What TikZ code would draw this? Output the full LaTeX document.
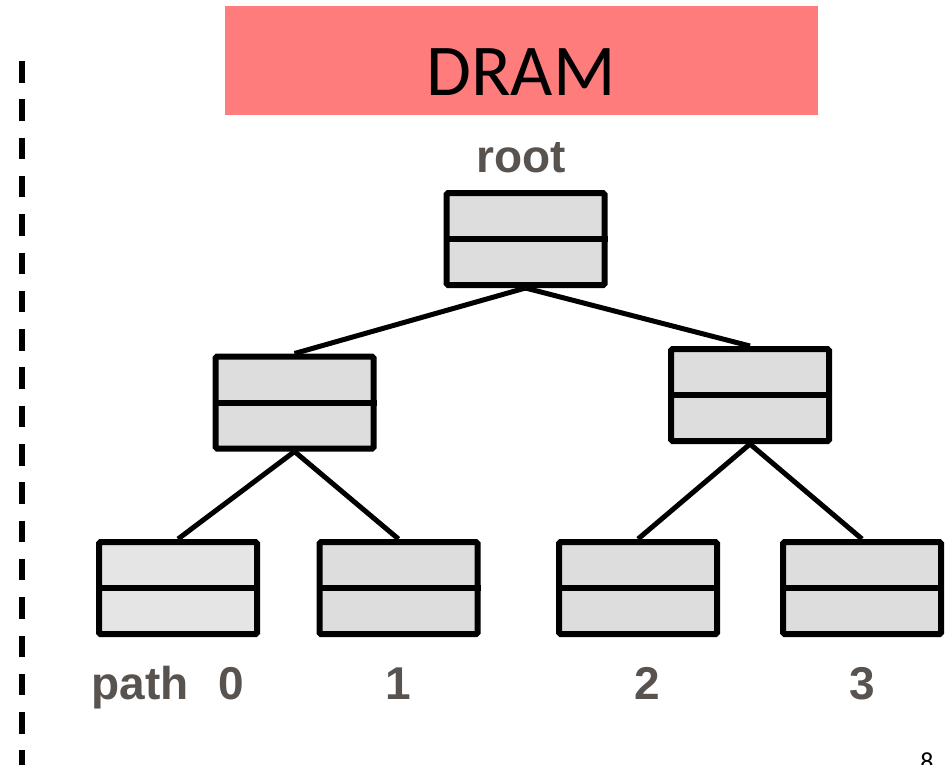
\documentclass[tikz,border=0pt]{standalone}
\usepackage{fontspec}
\setmainfont{Liberation Sans}
\newfontfamily\calfont{Carlito}
\definecolor{dramred}{RGB}{255,124,124}
\definecolor{cellgray}{RGB}{221,221,221}
\definecolor{cellgraylight}{RGB}{229,229,229}
\definecolor{labelgray}{RGB}{89,83,80}
\begin{document}
\begin{tikzpicture}[x=1pt,y=-1pt,
  bucket/.style={draw=black, line width=6pt, fill=cellgray, rectangle,
    rounded corners=1.5pt, minimum width=158pt, minimum height=92pt,
    inner sep=0pt},
  edge/.style={draw=black, line width=5pt},
  lbl/.style={text=labelgray, font=\fontsize{46}{50}\selectfont\bfseries,
    anchor=base, inner sep=0pt}]
  \useasboundingbox (0,0) rectangle (950,764);

  % DRAM banner
  \node[fill=dramred, minimum width=593pt, minimum height=109pt, inner sep=0pt]
    (dram) at (521.5,60.5) {};
  \node[anchor=base, inner sep=0pt, font=\calfont\fontsize{73}{78}\selectfont]
    (dramtxt) at (521,95) {DRAM};

  % dashed divider on the left
  \coordinate (dtop) at (22,61);
  \coordinate (dbot) at (22,790);
  \draw[line width=5.5pt, dash pattern=on 21.5pt off 16.8pt] (dtop) -- (dbot);

  % tree buckets
  \node[bucket] (root) at (525.5,239) {};
  \node[bucket] (l) at (294.5,402.5) {};
  \node[bucket] (r) at (750,395) {};
  \node[bucket, fill=cellgraylight] (p0) at (178,588) {};
  \node[bucket] (p1) at (398.5,588) {};
  \node[bucket] (p2) at (638,588) {};
  \node[bucket] (p3) at (862,588) {};

  % split each bucket into two slots
  \foreach \b in {root,l,r,p0,p1,p2,p3}
    \draw[line width=6pt] (\b.west) -- (\b.east);

  % tree edges
  \draw[edge] (root.south) -- (l.north);
  \draw[edge] (root.south) -- (r.north);
  \draw[edge] (l.south) -- (p0.north);
  \draw[edge] (l.south) -- (p1.north);
  \draw[edge] (r.south) -- (p2.north);
  \draw[edge] (r.south) -- (p3.north);

  % labels
  \node[lbl] (rootlbl) at (521.5,172) {root};
  \node[lbl] (pathlbl) at (140,699) {path};
  \node[lbl] (n0) at (231,699) {0};
  \node[lbl] (n1) at (398,699) {1};
  \node[lbl] (n2) at (647,699) {2};
  \node[lbl] (n3) at (862,699) {3};

  % slide number
  \node[anchor=base, inner sep=0pt, font=\calfont\fontsize{26}{28}\selectfont]
    (pagenum) at (927,770) {8};
\end{tikzpicture}
\end{document}
